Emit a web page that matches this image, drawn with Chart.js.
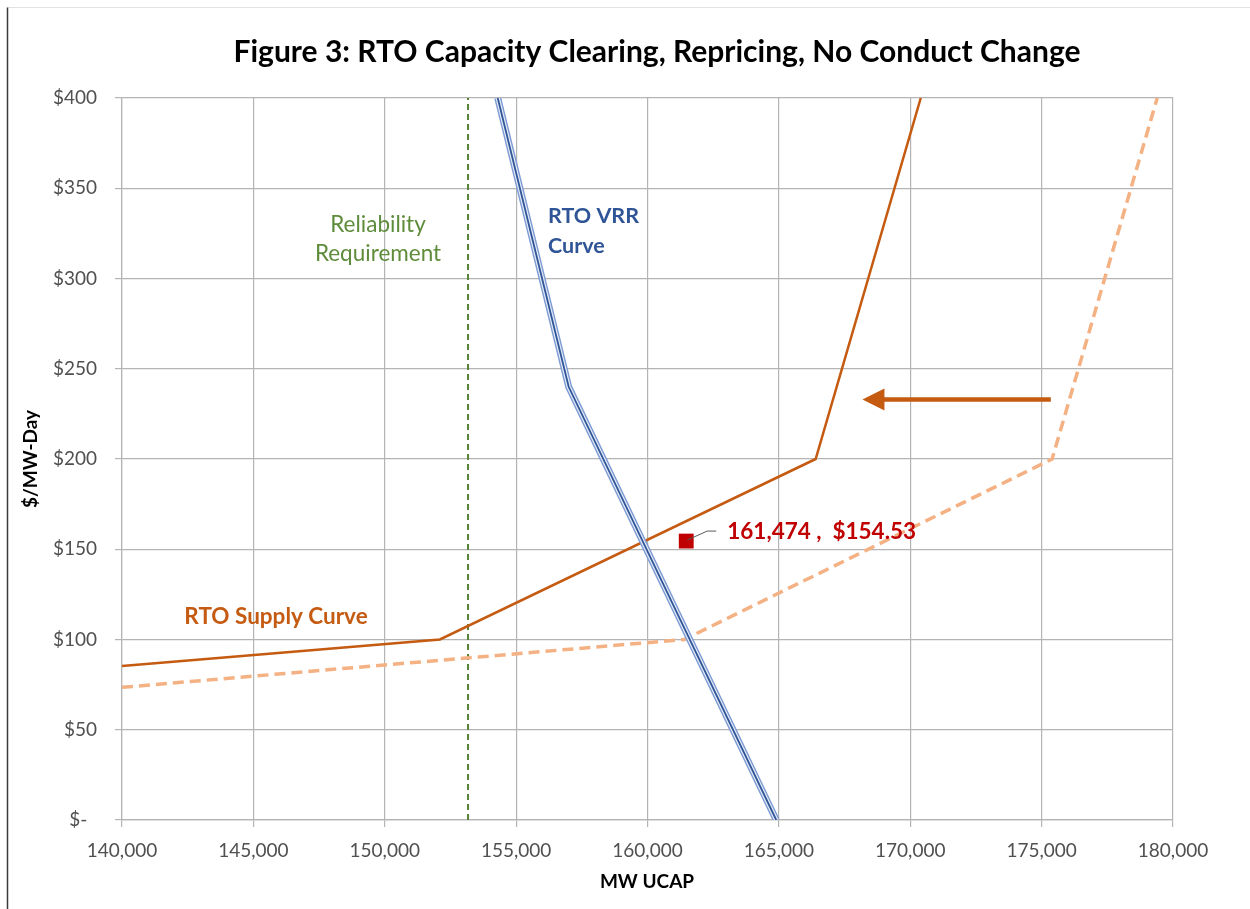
<!DOCTYPE html>
<html><head><meta charset="utf-8">
<script src="https://cdn.jsdelivr.net/npm/chart.js@4.4.1/dist/chart.umd.min.js"></script>
<style>html,body{margin:0;padding:0;background:#fff}#wrap{width:1250px;height:909px;position:relative}</style>
</head><body><div id="wrap"><canvas id="c" width="1250" height="909"></canvas></div>
<script>
// ---- data ----
const supplyMW = [140000, 152100, 166400, 170400];
const supplyPrice = [85.3, 100, 200, 400];
const shiftedSupplyMW = [140000, 161400, 175400, 179400];
const shiftedSupplyPrice = [73.5, 100, 200, 400];
const vrrMW = [154300, 157000, 164900];
const vrrPrice = [400, 240, 0];
const reliabilityMW = [153170, 153170];
const reliabilityPrice = [0, 400];
const clearingMW = [161474];
const clearingPrice = [154.53];
const arrowMW = [175350, 168180];
const arrowPrice = [233, 233];
const xTickValues = [140000, 145000, 150000, 155000, 160000, 165000, 170000, 175000, 180000];
const xTickLabels = ['140,000','145,000','150,000','155,000','160,000','165,000','170,000','175,000','180,000'];
const yTickValues = [0, 50, 100, 150, 200, 250, 300, 350, 400];
const yTickLabels = ['$-  ','$50','$100','$150','$200','$250','$300','$350','$400'];
const titleText = 'Figure 3: RTO Capacity Clearing, Repricing, No Conduct Change';
const xTitle = 'MW UCAP';
const yTitle = '$/MW-Day';
const clearingLabel = '161,474 ,  $154.53';

const pts = (xs, ys) => xs.map((x, i) => ({x: x, y: ys[i]}));
const FONT = 'Lato, "Open Sans", sans-serif';

const line = (data, color, width, extra) => Object.assign({
  data: data, showLine: true, borderColor: color, backgroundColor: color,
  borderWidth: width, pointRadius: 0, pointHoverRadius: 0, tension: 0, fill: false
}, extra || {});

const annot = {
  id: 'annot',
  beforeDraw(chart) {
    const ctx = chart.ctx;
    ctx.save();
    ctx.fillStyle = '#fff';
    ctx.fillRect(0, 0, chart.width, chart.height);
    ctx.strokeStyle = '#e2e2e2';
    ctx.lineWidth = 1;
    ctx.beginPath(); ctx.moveTo(7.5, 7.5); ctx.lineTo(chart.width, 7.5); ctx.stroke();
    ctx.strokeStyle = '#3a3a3a';
    ctx.lineWidth = 1.5;
    ctx.beginPath(); ctx.moveTo(7.5, 7.5); ctx.lineTo(7.5, chart.height); ctx.stroke();
    ctx.restore();
  },
  afterDatasetsDraw(chart) {
    const ctx = chart.ctx, xs = chart.scales.x, ys = chart.scales.y;
    ctx.save();
    // shift arrow
    const ax0 = xs.getPixelForValue(arrowMW[0]);
    const ax1 = xs.getPixelForValue(arrowMW[1]);
    const ay = ys.getPixelForValue(arrowPrice[0]);
    ctx.strokeStyle = '#C55A11'; ctx.fillStyle = '#C55A11';
    ctx.lineWidth = 4.5;
    ctx.beginPath(); ctx.moveTo(ax0, ay); ctx.lineTo(ax1 + 18, ay); ctx.stroke();
    ctx.beginPath(); ctx.moveTo(ax1, ay); ctx.lineTo(ax1 + 22, ay - 11); ctx.lineTo(ax1 + 22, ay + 11); ctx.closePath(); ctx.fill();
    // clearing point leader + label
    const px = xs.getPixelForValue(clearingMW[0]);
    const py = ys.getPixelForValue(clearingPrice[0]);
    ctx.strokeStyle = '#595959'; ctx.lineWidth = 1;
    ctx.beginPath(); ctx.moveTo(px + 1, py - 1); ctx.lineTo(px + 21, py - 10); ctx.lineTo(px + 30, py - 10); ctx.stroke();
    ctx.fillStyle = '#C00000';
    ctx.font = 'bold 22.5px ' + FONT;
    ctx.textAlign = 'left'; ctx.textBaseline = 'middle';
    ctx.fillText(clearingLabel, px + 41, py - 9);
    // series labels
    ctx.fillStyle = '#2F5597';
    ctx.font = 'bold 21.5px ' + FONT;
    ctx.fillText('RTO VRR', 548, 216);
    ctx.fillText('Curve', 548, 246);
    ctx.fillStyle = '#C55A11';
    ctx.font = 'bold 22.5px ' + FONT;
    ctx.textAlign = 'center';
    ctx.fillText('RTO Supply Curve', 276, 617);
    ctx.fillStyle = '#5E8C3A';
    ctx.font = '22.5px ' + FONT;
    ctx.fillText('Reliability', 378, 225);
    ctx.fillText('Requirement', 378, 254);
    ctx.restore();
  },
  afterDraw(chart) {
    const ctx = chart.ctx;
    ctx.save();
    ctx.fillStyle = '#000';
    ctx.textAlign = 'center'; ctx.textBaseline = 'middle';
    ctx.font = 'bold 30px ' + FONT;
    ctx.fillText(titleText, 657, 52);
    ctx.fillStyle = '#000';
    ctx.font = 'bold 19px ' + FONT;
    ctx.fillText(xTitle, 647, 882);
    ctx.translate(31, 459);
    ctx.rotate(-Math.PI / 2);
    ctx.fillText(yTitle, 0, 0);
    ctx.restore();
  }
};

new Chart(document.getElementById('c'), {
  type: 'scatter',
  data: {
    datasets: [
      line(pts(clearingMW, clearingPrice), '#C00000', 0, {showLine: false, pointRadius: 10.5, pointStyle: 'rect', backgroundColor: '#C00000', borderColor: '#C00000', order: 0}),
      line(pts(vrrMW, vrrPrice), '#2F5597', 1.8, {order: 1}),
      line(pts(vrrMW, vrrPrice), '#E4EBF7', 4.2, {order: 2}),
      line(pts(vrrMW, vrrPrice), '#7E9BD4', 7, {order: 3}),
      line(pts(supplyMW, supplyPrice), '#C55A11', 2.5, {order: 4}),
      line(pts(shiftedSupplyMW, shiftedSupplyPrice), '#F4B183', 3.5, {borderDash: [11, 6], order: 5}),
      line(pts(reliabilityMW, reliabilityPrice), '#548235', 2, {borderDash: [6, 4], order: 6})
    ]
  },
  options: {
    responsive: false,
    animation: false,
    events: [],
    layout: {padding: {top: 98, right: 77, left: 0, bottom: 0}},
    plugins: {legend: {display: false}, tooltip: {enabled: false}, title: {display: false}},
    scales: {
      x: {
        type: 'linear', min: 140000, max: 180000,
        afterFit(s) { s.height = 89; },
        afterBuildTicks(s) { s.ticks = xTickValues.map(v => ({value: v})); },
        grid: {color: '#b4b4b4', lineWidth: 1.2, tickLength: 7, drawTicks: true},
        border: {color: '#b4b4b4', width: 1.2},
        ticks: {
          padding: 12, color: '#505050', font: {family: FONT, size: 19}, maxRotation: 0, autoSkip: false,
          callback: (v) => xTickLabels[xTickValues.indexOf(v)]
        }
      },
      y: {
        type: 'linear', min: 0, max: 400,
        afterFit(s) { s.width = 122; },
        afterBuildTicks(s) { s.ticks = yTickValues.map(v => ({value: v})); },
        grid: {color: '#b4b4b4', lineWidth: 1.2, tickLength: 7, drawTicks: true},
        border: {color: '#b4b4b4', width: 1.2},
        ticks: {
          padding: 18, color: '#505050', font: {family: FONT, size: 19}, autoSkip: false,
          callback: (v) => yTickLabels[yTickValues.indexOf(v)]
        }
      }
    }
  },
  plugins: [annot]
});
</script>
</body></html>
